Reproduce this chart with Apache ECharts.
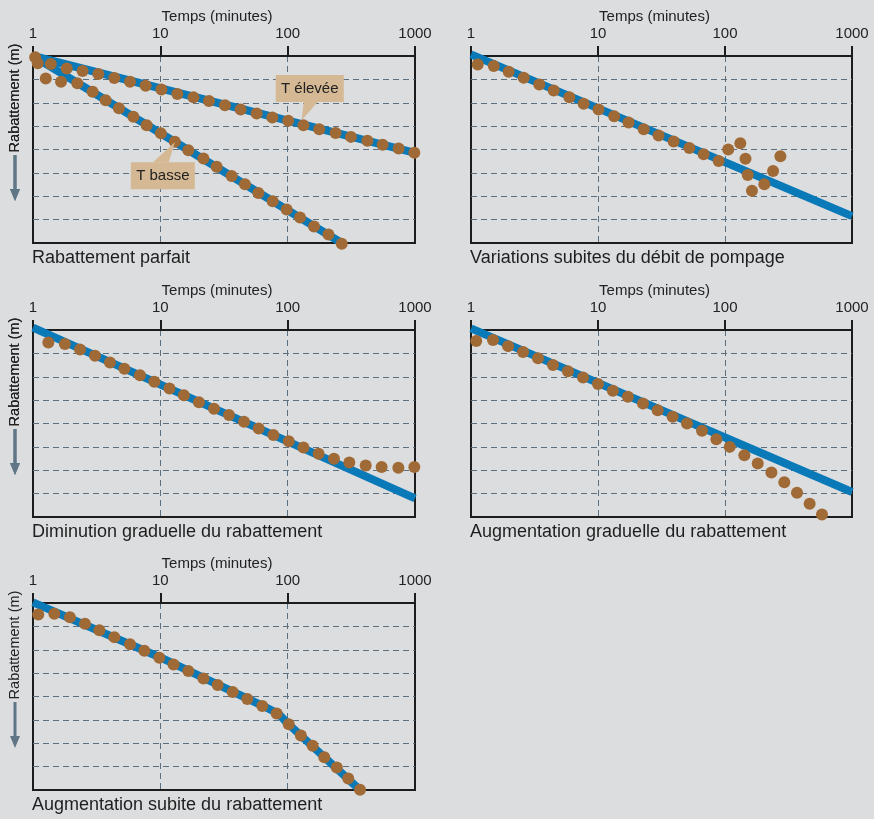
<!DOCTYPE html>
<html><head><meta charset="utf-8">
<script src="https://cdn.jsdelivr.net/npm/echarts@6/dist/echarts.min.js"></script>
<style>html,body{margin:0;padding:0;background:#dcdddf;}#c{width:874px;height:819px;}</style>
</head><body><div id="c"></div>
<script>
// ---------- data ----------
const timeTicks = [1, 10, 100, 1000];
const drawdownRange = [0, 8];
const xAxisTitle = 'Temps (minutes)';
const yAxisTitle = 'Rabattement (m)';
const panelTitles = [
  'Rabattement parfait',
  'Variations subites du débit de pompage',
  'Diminution graduelle du rabattement',
  'Augmentation graduelle du rabattement',
  'Augmentation subite du rabattement'
];

// Panel 1 : Rabattement parfait
const p1HighLineT = [1, 1000];
const p1HighLineS = [0, 4.14];
const p1LowLineT = [1, 266];
const p1LowLineS = [0, 8.0];
const p1HighDotsT = [1.04, 1.38, 1.84, 2.45, 3.26, 4.35, 5.78, 7.67, 10.2, 13.6, 18.2, 24.1, 32.2, 42.7, 57.1, 75.8, 101, 133, 177, 238, 314, 423, 557, 744, 988];
const p1HighDotsS = [0.05, 0.34, 0.53, 0.64, 0.77, 0.94, 1.10, 1.27, 1.43, 1.63, 1.77, 1.93, 2.11, 2.29, 2.46, 2.63, 2.77, 2.96, 3.13, 3.29, 3.46, 3.63, 3.80, 3.96, 4.14];
const p1LowDotsT = [1.09, 1.26, 1.66, 2.23, 2.94, 3.72, 4.73, 6.14, 7.81, 10.1, 13.0, 16.6, 21.8, 27.7, 36.3, 46.2, 58.9, 76.3, 98.2, 125, 161, 209, 266];
const p1LowDotsS = [0.31, 0.96, 1.10, 1.17, 1.53, 1.89, 2.24, 2.60, 2.96, 3.31, 3.67, 4.03, 4.39, 4.74, 5.13, 5.49, 5.86, 6.21, 6.57, 6.91, 7.29, 7.64, 8.03];

// Panel 2 : Variations subites du débit de pompage
const p2LineT = [1, 1000];
const p2LineS = [-0.07, 6.85];
const p2DotsT = [1.13, 1.51, 1.98, 2.60, 3.45, 4.48, 5.95, 7.71, 10.1, 13.4, 17.4, 22.9, 30.0, 39.4, 52.4, 67.9, 89.1, 106, 132, 145, 151, 163, 204, 239, 273];
const p2DotsS = [0.36, 0.43, 0.67, 0.93, 1.22, 1.48, 1.76, 2.04, 2.29, 2.58, 2.84, 3.13, 3.40, 3.66, 3.94, 4.20, 4.49, 4.00, 3.73, 4.40, 5.09, 5.76, 5.49, 4.92, 4.29];

// Panel 3 : Diminution graduelle du rabattement
const p3LineT = [1, 1000];
const p3LineS = [-0.1, 7.2];
const p3DotsT = [1.32, 1.78, 2.34, 3.07, 4.02, 5.22, 6.92, 8.97, 11.8, 15.3, 20.1, 26.4, 34.6, 45.4, 59.2, 77.2, 102, 133, 175, 231, 305, 410, 547, 740, 988];
const p3DotsS = [0.53, 0.60, 0.83, 1.10, 1.39, 1.66, 1.94, 2.21, 2.50, 2.79, 3.09, 3.37, 3.64, 3.93, 4.21, 4.49, 4.76, 5.03, 5.29, 5.51, 5.67, 5.80, 5.86, 5.89, 5.86];

// Panel 4 : Augmentation graduelle du rabattement
const p4LineT = [1, 1000];
const p4LineS = [-0.07, 6.93];
const p4DotsT = [1.10, 1.49, 1.96, 2.57, 3.37, 4.42, 5.80, 7.62, 10.0, 13.1, 17.2, 22.6, 29.5, 38.7, 50.2, 65.9, 85.5, 109, 142, 181, 232, 293, 369, 464, 580];
const p4DotsS = [0.47, 0.43, 0.69, 0.94, 1.21, 1.50, 1.76, 2.03, 2.31, 2.60, 2.86, 3.14, 3.43, 3.71, 4.00, 4.31, 4.67, 5.00, 5.36, 5.71, 6.10, 6.51, 6.96, 7.43, 7.89];

// Panel 5 : Augmentation subite du rabattement
const p5LineT = [1, 10, 65, 85, 100, 370];
const p5LineS = [-0.03, 2.33, 4.42, 4.75, 5.15, 8.0];
const p5DotsT = [1.10, 1.47, 1.95, 2.56, 3.32, 4.35, 5.78, 7.49, 9.82, 12.7, 16.6, 21.8, 28.2, 37.0, 48.2, 63.2, 82.0, 102, 127, 157, 194, 243, 299, 370];
const p5DotsS = [0.49, 0.46, 0.61, 0.89, 1.17, 1.46, 1.76, 2.04, 2.34, 2.63, 2.91, 3.23, 3.51, 3.81, 4.11, 4.41, 4.73, 5.19, 5.67, 6.11, 6.60, 7.04, 7.51, 7.99];

// Annotations (panel 1)
const annotTexts = ['T élevée', 'T basse'];
const annotT = [129, 13.0];
const annotS = [2.74, 3.69];

// ---------- layout / style ----------
const BLUE = '#0979b8';
const BROWN = '#a06a37';
const GRIDC = '#5c6f7f';
const INK = '#1c1c1c';
const FONT = "'Liberation Sans', Arial, sans-serif";
const layout = [
  {left: 33, top: 56, width: 382, height: 187},
  {left: 471, top: 56, width: 381, height: 187},
  {left: 33, top: 330, width: 382, height: 187},
  {left: 471, top: 330, width: 381, height: 187},
  {left: 33, top: 603, width: 382, height: 187}
];
const panels = [
  {lines: [[p1HighLineT, p1HighLineS], [p1LowLineT, p1LowLineS]], dots: [[p1HighDotsT, p1HighDotsS], [p1LowDotsT, p1LowDotsS]]},
  {lines: [[p2LineT, p2LineS]], dots: [[p2DotsT, p2DotsS]]},
  {lines: [[p3LineT, p3LineS]], dots: [[p3DotsT, p3DotsS]]},
  {lines: [[p4LineT, p4LineS]], dots: [[p4DotsT, p4DotsS]]},
  {lines: [[p5LineT, p5LineS]], dots: [[p5DotsT, p5DotsS]]}
];
const zip = (a, b) => a.map((v, i) => [v, b[i]]);

const grids = [], xAxes = [], yAxes = [], series = [], titles = [];
layout.forEach((L, i) => {
  grids.push({left: L.left, top: L.top, width: L.width, height: L.height, show: true,
    borderColor: INK, borderWidth: 2, backgroundColor: 'transparent'});
  xAxes.push({
    type: 'log', logBase: 10, gridIndex: i, position: 'top',
    min: timeTicks[0], max: timeTicks[timeTicks.length - 1],
    name: xAxisTitle, nameLocation: 'middle', nameGap: 32,
    nameTextStyle: {fontSize: 15, color: '#222', fontFamily: FONT, padding: [0, 14, 0, 0]},
    axisLine: {show: true, lineStyle: {color: INK, width: 2}},
    axisTick: {show: true, length: 10, lineStyle: {color: INK, width: 2}},
    axisLabel: {fontSize: 15, color: '#222', margin: 15, fontFamily: FONT,
      formatter: v => String(Math.round(v))},
    splitLine: {show: true, showMinLine: false, showMaxLine: false,
      lineStyle: {color: GRIDC, width: 1, type: [6, 4]}}
  });
  yAxes.push({
    type: 'value', gridIndex: i, min: drawdownRange[0], max: drawdownRange[1], interval: 1, inverse: true,
    axisLine: {show: false}, axisTick: {show: false}, axisLabel: {show: false},
    splitLine: {show: true, showMinLine: false, showMaxLine: false,
      lineStyle: {color: GRIDC, width: 1, type: [6, 4]}}
  });
  const P = panels[i];
  P.lines.forEach(([t, s]) => series.push({
    type: 'line', xAxisIndex: i, yAxisIndex: i, data: zip(t, s), symbol: 'none', showSymbol: false,
    lineStyle: {width: 8, color: BLUE}, clip: false, z: 2, silent: true
  }));
  P.dots.forEach(([t, s]) => series.push({
    type: 'scatter', xAxisIndex: i, yAxisIndex: i, data: zip(t, s), symbolSize: 12,
    itemStyle: {color: BROWN, opacity: 1}, clip: false, z: 3, silent: true
  }));
  titles.push({text: panelTitles[i], left: L.left - 1, top: L.top + L.height + 6, padding: 0,
    textStyle: {fontSize: 18, fontWeight: 'normal', color: '#1e1e1e', fontFamily: FONT}});
});

const chart = echarts.init(document.getElementById('c'), null, {renderer: 'canvas'});
chart.setOption({
  backgroundColor: '#dcdddf', animation: false,
  textStyle: {fontFamily: FONT},
  title: titles, grid: grids, xAxis: xAxes, yAxis: yAxes, series: series
});

// graphics: y-axis titles with arrow, and annotations
const graphics = [];
layout.forEach((L) => {
  graphics.push({type: 'text', x: 15, y: L.top + 42, rotation: Math.PI / 2,
    style: {text: yAxisTitle, x: 0, y: 0, align: 'center', verticalAlign: 'middle',
      fontSize: 14.5, fill: '#222', fontFamily: FONT}, z: 10});
  graphics.push({type: 'line', shape: {x1: 15, y1: L.top + 99, x2: 15, y2: L.top + 136},
    style: {stroke: '#5f7686', lineWidth: 3}, z: 10});
  graphics.push({type: 'polygon', shape: {points: [[10, L.top + 133], [20, L.top + 133], [15, L.top + 145]]},
    style: {fill: '#5f7686'}, z: 10});
});
const TAN = '#d5b894';
const boxes = [
  {rx: -26, ry: -45, w: 68, h: 27, b1: [2, -18], b2: [16, -18]},
  {rx: -44, ry: 20, w: 64, h: 27, b1: [-22, 20], b2: [-6, 20]}
];
annotTexts.forEach((txt, k) => {
  const p = chart.convertToPixel({xAxisIndex: 0, yAxisIndex: 0}, [annotT[k], annotS[k]]);
  const B = boxes[k];
  graphics.push({type: 'polygon', shape: {points: [[p[0] + B.b1[0], p[1] + B.b1[1]], [p[0] + B.b2[0], p[1] + B.b2[1]], [p[0], p[1]]]},
    style: {fill: TAN}, z: 20});
  graphics.push({type: 'rect', shape: {x: p[0] + B.rx, y: p[1] + B.ry, width: B.w, height: B.h},
    style: {fill: TAN}, z: 20});
  graphics.push({type: 'text', x: p[0] + B.rx + B.w / 2, y: p[1] + B.ry + B.h / 2,
    style: {text: txt, x: 0, y: 0, align: 'center', verticalAlign: 'middle', fontSize: 15, fill: '#222', fontFamily: FONT}, z: 21});
});
chart.setOption({graphic: graphics});
</script>
</body></html>
